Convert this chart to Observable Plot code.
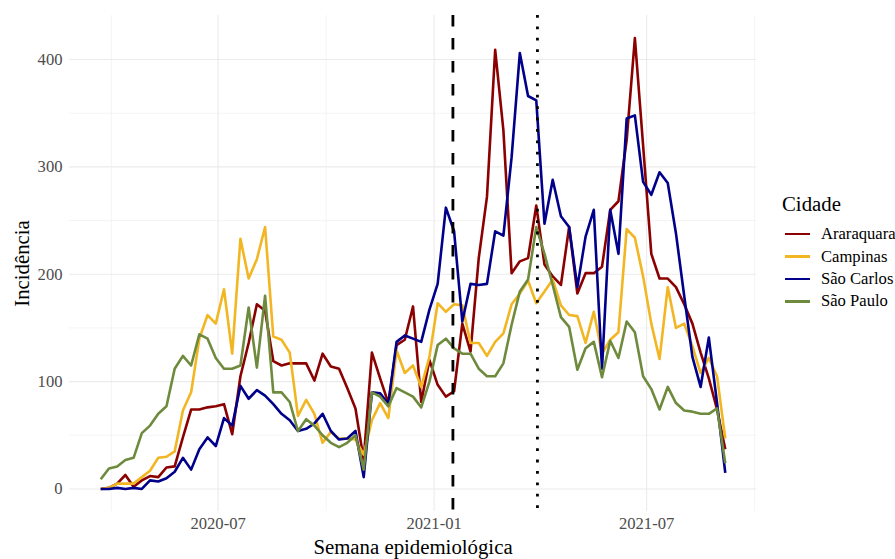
<!DOCTYPE html>
<html>
<head>
<meta charset="utf-8">
<script src="https://cdn.jsdelivr.net/npm/d3@7"></script>
<script src="https://cdn.jsdelivr.net/npm/@observablehq/plot@0.6"></script>
<style>
  html, body { margin: 0; padding: 0; background: #fff; }
  #wrap { position: relative; width: 895px; height: 559px; font-family: 'Liberation Serif', 'Times New Roman', serif; }
  #legend { position: absolute; left: 782px; top: 191px; color: #000; font-family: 'Liberation Serif', serif; }
  #legend .title { font-size: 20.8px; line-height: 26px; margin-bottom: 6px; }
  #legend .item { display: flex; align-items: center; height: 22.4px; font-size: 16.6px; }
  #legend .key { width: 25px; height: 2.6px; margin-left: 3px; margin-right: 11px; }
</style>
</head>
<body>
<div id="wrap"><div id="chart"></div><div id="legend"></div></div>
<script>
// Week start of the first epidemiological week shown, one value per week
const firstWeek = "2020-03-23";
const nWeeks = 77;

const cities = ["Araraquara", "Campinas", "São Carlos", "São Paulo"];
const colors = ["#8B0000", "#F2B623", "#00008B", "#6E8B3D"];

const araraquara = [0,1,5,13,2,8,12,11,20,21, 48,74,74,76,77,79,51,105,136,172, 166,119,115,117,117,117,101,126,114,112, 94,75,27,127,103,80,134,139,170,81, 120,97,86,91,154,128,215,272,409,334, 201,212,215,264,209,198,190,244,182,201, 201,207,260,268,325,420,320,219,196,196, 188,172,154,127,103,74,37];
const campinas = [0,1,5,5,5,11,17,29,30,35, 73,90,140,162,154,186,126,233,196,214, 244,142,139,127,68,83,70,43,53,47, 47,46,32,64,80,66,129,108,115,95, 123,173,165,172,171,136,136,124,137,145, 172,182,194,173,184,195,171,162,161,136, 165,126,139,146,242,234,198,154,121,188, 150,154,133,108,122,105,47];
const saoCarlos = [0,0,1,0,1,0,8,7,10,16, 29,18,37,48,40,66,59,96,84,92, 87,79,70,64,54,56,61,70,54,46, 47,54,11,90,89,79,137,143,140,137, 167,191,262,240,156,191,190,191,240,236, 309,406,366,362,247,288,254,244,188,235, 260,112,260,219,345,348,286,274,295,285, 238,180,123,95,141,80,15];
const saoPaulo = [9,19,21,27,29,52,59,70,77,112, 124,115,144,140,122,112,112,115,169,113, 180,90,90,81,54,65,59,50,43,39, 43,50,18,90,86,77,94,90,86,76, 100,134,140,131,126,126,112,105,105,117, 153,184,195,244,219,190,160,151,111,131, 137,104,138,122,156,146,105,93,74,95, 80,73,72,70,70,75,24];

const seriesValues = [araraquara, campinas, saoCarlos, saoPaulo];

// Reference dates (vertical lines)
const dashedDate = "2021-01-17";
const dottedDate = "2021-03-30";

// Tick labels
const xMajorTicks = ["2020-07-01", "2021-01-01", "2021-07-01"];
const xMinorTicks = ["2020-04-01", "2020-10-01", "2021-04-01", "2021-10-01"];
const yMajorTicks = [0, 100, 200, 300, 400];
const yMinorTicks = [50, 150, 250, 350];

const parse = d3.utcParse("%Y-%m-%d");
const start = parse(firstWeek);
const weeks = d3.range(nWeeks).map(i => d3.utcDay.offset(start, 7 * i));

const data = [];
cities.forEach((c, k) => {
  seriesValues[k].forEach((v, i) => data.push({city: c, date: weeks[i], value: v}));
});

// ggplot-like 5% expansion
const [x0, x1] = d3.extent(weeks);
const xpad = (x1 - x0) * 0.05;
const xDomain = [new Date(+x0 - xpad), new Date(+x1 + xpad)];
const [y0, y1] = d3.extent(data, d => d.value);
const ypad = (y1 - y0) * 0.05;
const yDomain = [y0 - ypad, y1 + ypad];

const grid = "#EBEBEB";
const serif = "'Liberation Serif', 'Times New Roman', serif";

const chart = Plot.plot({
  width: 895,
  height: 559,
  marginLeft: 69,
  marginRight: 139,
  marginTop: 15,
  marginBottom: 48,
  style: {fontFamily: serif, fontSize: "16.6px", background: "white", overflow: "visible"},
  x: {type: "utc", domain: xDomain},
  y: {domain: yDomain},
  color: {domain: cities, range: colors},
  marks: [
    Plot.gridY(yMinorTicks, {stroke: grid, strokeOpacity: 1, strokeWidth: 0.55}),
    Plot.gridX(xMinorTicks.map(parse), {stroke: grid, strokeOpacity: 1, strokeWidth: 0.55}),
    Plot.gridY(yMajorTicks, {stroke: grid, strokeOpacity: 1, strokeWidth: 1.1}),
    Plot.gridX(xMajorTicks.map(parse), {stroke: grid, strokeOpacity: 1, strokeWidth: 1.1}),
    Plot.line(data, {x: "date", y: "value", stroke: "city", z: "city", strokeWidth: 2.6, strokeLinejoin: "round", strokeLinecap: "butt"}),
    Plot.ruleX([parse(dashedDate)], {stroke: "black", strokeWidth: 2.8, strokeDasharray: "11.5,11.5"}),
    Plot.ruleX([parse(dottedDate)], {stroke: "black", strokeWidth: 2.8, strokeDasharray: "2.8,8.6"}),
    Plot.axisY(yMajorTicks, {tickSize: 0, tickPadding: 7, label: null, fill: "#4D4D4D", fontSize: 16.6, fontFamily: serif}),
    Plot.axisX(xMajorTicks.map(parse), {tickSize: 0, tickPadding: 6, label: null, fill: "#4D4D4D", fontSize: 16.6, fontFamily: serif, tickFormat: d3.utcFormat("%Y-%m")}),
    Plot.text(["Semana epidemiológica"], {frameAnchor: "bottom", dy: 36, fontSize: 20.8, fontFamily: serif, fill: "black", textAnchor: "middle", lineAnchor: "middle"}),
    Plot.text(["Incidência"], {frameAnchor: "left", dx: -47, rotate: -90, fontSize: 20.8, fontFamily: serif, fill: "black", textAnchor: "middle", lineAnchor: "middle"})
  ]
});
document.getElementById("chart").appendChild(chart);

// Legend
const legend = document.getElementById("legend");
const t = document.createElement("div");
t.className = "title";
t.textContent = "Cidade";
legend.appendChild(t);
cities.forEach((c, k) => {
  const it = document.createElement("div");
  it.className = "item";
  const key = document.createElement("span");
  key.className = "key";
  key.style.background = colors[k];
  const lab = document.createElement("span");
  lab.textContent = c;
  it.appendChild(key);
  it.appendChild(lab);
  legend.appendChild(it);
});
</script>
</body>
</html>
